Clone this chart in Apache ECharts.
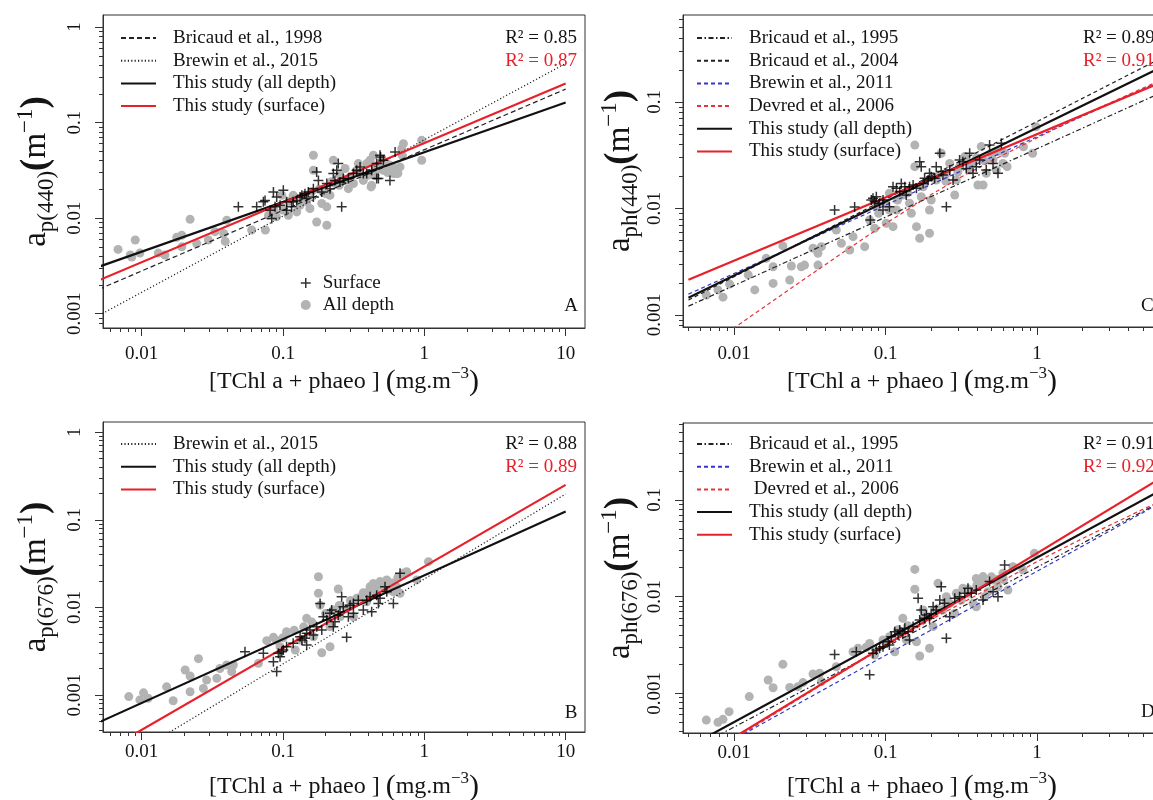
<!DOCTYPE html>
<html><head><meta charset="utf-8">
<script src="https://cdn.jsdelivr.net/npm/echarts@6/dist/echarts.min.js"></script>
<style>html,body{margin:0;padding:0;background:#fff}#c{width:1153px;height:800px}</style>
</head><body><div id="c"></div>
<script>
// ---------------- tick values / labels ----------------
const xTicksLeft = [0.01, 0.1, 1, 10];
const xTickLabelsLeft = ['0.01', '0.1', '1', '10'];
const xTicksRight = [0.01, 0.1, 1];
const xTickLabelsRight = ['0.01', '0.1', '1'];
const yTicksLeft = [0.001, 0.01, 0.1, 1];
const yTickLabelsLeft = ['0.001', '0.01', '0.1', '1'];
const yTicksRight = [0.001, 0.01, 0.1];
const yTickLabelsRight = ['0.001', '0.01', '0.1'];

// ---------------- Panel A : ap(440) ----------------
const aAllDepth = [[0.0068,0.0047],[0.0083,0.0041],[0.0090,0.0059],[0.0097,0.0043],[0.0131,0.0043],[0.0146,0.0041],[0.0177,0.0063],[0.0192,0.0066],[0.022,0.0097],[0.0192,0.0050],[0.0245,0.0054],[0.0296,0.0059],[0.033,0.0072],[0.038,0.0069],[0.039,0.0057],[0.040,0.0095],[0.060,0.0075],[0.075,0.0075],[0.079,0.0107],[0.086,0.0121],[0.100,0.0121],[0.109,0.0107],[0.118,0.0173],[0.132,0.0136],[0.147,0.0148],[0.155,0.0126],[0.164,0.0454],[0.164,0.0316],[0.173,0.0091],[0.188,0.0142],[0.204,0.0084],[0.204,0.0131],[0.215,0.0173],[0.227,0.0403],[0.233,0.023],[0.253,0.0281],[0.275,0.033],[0.29,0.0203],[0.315,0.023],[0.332,0.0316],[0.341,0.0372],[0.37,0.0248],[0.391,0.0372],[0.413,0.0403],[0.424,0.022],[0.436,0.0454],[0.448,0.0281],[0.486,0.033],[0.513,0.0316],[0.542,0.0372],[0.571,0.0357],[0.604,0.0292],[0.637,0.0292],[0.673,0.0343],[0.692,0.0533],[0.711,0.0601],[0.958,0.0403],[0.958,0.0651],[0.098,0.0173],[0.090,0.0103],[0.125,0.0116],[0.0085,0.0039],[0.42,0.0212],[0.65,0.0294],[0.12,0.016],[0.14,0.017],[0.16,0.019],[0.18,0.02],[0.22,0.024],[0.25,0.022],[0.3,0.027],[0.35,0.03],[0.4,0.028],[0.45,0.035],[0.5,0.04],[0.55,0.03],[0.6,0.034],[0.7,0.045],[0.11,0.015],[0.2,0.018],[0.28,0.025]];
const aSurface = [[0.0483,0.0131],[0.0651,0.0131],[0.0726,0.0148],[0.0855,0.0188],[0.0902,0.0166],[0.1005,0.0195],[0.0832,0.0099],[0.0878,0.0131],[0.0953,0.0136],[0.106,0.0148],[0.115,0.0131],[0.125,0.0153],[0.132,0.0166],[0.136,0.0173],[0.143,0.018],[0.151,0.0188],[0.164,0.0203],[0.173,0.0304],[0.178,0.0248],[0.188,0.0188],[0.204,0.023],[0.215,0.0203],[0.227,0.0292],[0.233,0.0248],[0.24,0.0316],[0.246,0.0372],[0.253,0.0239],[0.26,0.0131],[0.267,0.0259],[0.29,0.0259],[0.315,0.0292],[0.332,0.0316],[0.351,0.0343],[0.37,0.0292],[0.391,0.0292],[0.424,0.0316],[0.46,0.0372],[0.486,0.0454],[0.513,0.0403],[0.473,0.0259],[0.571,0.0248],[0.621,0.0492],[0.164,0.0166],[0.147,0.016],[0.118,0.0148],[0.106,0.0121],[0.081,0.0121],[0.0746,0.0153],[0.49,0.0437],[0.46,0.026]];
const aBricaud1998 = [[0.005,0.0018],[10,0.224]];
const aBrewin2015 = [[0.005,0.00096],[10,0.415]];
const aStudyAll = [[0.005,0.0031],[10,0.162]];
const aStudySurf = [[0.005,0.00224],[10,0.256]];

// ---------------- Panel B : ap(676) ----------------
const bAllDepth = [[0.0081,0.00096],[0.0097,0.00088],[0.0103,0.00106],[0.0111,0.00092],[0.0150,0.00124],[0.0167,0.00086],[0.0203,0.00193],[0.022,0.00109],[0.022,0.00165],[0.0252,0.0026],[0.0273,0.00119],[0.0288,0.00148],[0.034,0.00155],[0.0358,0.00201],[0.0399,0.0022],[0.0433,0.00185],[0.0445,0.0022],[0.067,0.0023],[0.0767,0.00417],[0.0855,0.00455],[0.106,0.00528],[0.122,0.00326],[0.147,0.0075],[0.164,0.00463],[0.178,0.0224],[0.178,0.0145],[0.183,0.0106],[0.188,0.00304],[0.215,0.00356],[0.227,0.00933],[0.246,0.0162],[0.253,0.00783],[0.282,0.00975],[0.315,0.00783],[0.332,0.0127],[0.37,0.0147],[0.391,0.0116],[0.413,0.0172],[0.436,0.0188],[0.46,0.0138],[0.486,0.0197],[0.513,0.0172],[0.542,0.0206],[0.571,0.0158],[0.604,0.0151],[0.637,0.0172],[0.673,0.0145],[0.711,0.0245],[0.75,0.0256],[0.883,0.0206],[1.07,0.0333],[0.0953,0.00356],[0.132,0.00425],[0.215,0.00603],[0.298,0.0102],[0.12,0.0055],[0.14,0.006],[0.16,0.0068],[0.2,0.0085],[0.25,0.0105],[0.3,0.012],[0.35,0.013],[0.4,0.015],[0.45,0.016],[0.5,0.018],[0.55,0.017],[0.6,0.019],[0.65,0.022],[0.1,0.0045],[0.09,0.0042]];
const bSurface = [[0.0538,0.00312],[0.0726,0.00299],[0.0855,0.0024],[0.0902,0.00185],[0.0927,0.00299],[0.098,0.00312],[0.1005,0.00326],[0.0953,0.00274],[0.106,0.00356],[0.132,0.00463],[0.136,0.00425],[0.143,0.00444],[0.147,0.00506],[0.155,0.00552],[0.164,0.00484],[0.173,0.00603],[0.183,0.0111],[0.188,0.00552],[0.193,0.00783],[0.204,0.00718],[0.215,0.00855],[0.221,0.00933],[0.227,0.00603],[0.233,0.00687],[0.246,0.00818],[0.253,0.00893],[0.26,0.0132],[0.267,0.0102],[0.282,0.00455],[0.29,0.00783],[0.298,0.0106],[0.315,0.0111],[0.341,0.0121],[0.37,0.00933],[0.391,0.0121],[0.413,0.0132],[0.424,0.00893],[0.46,0.0138],[0.486,0.0127],[0.527,0.0172],[0.542,0.0151],[0.604,0.0111],[0.673,0.0245],[0.147,0.00372],[0.118,0.00389],[0.315,0.00855],[0.473,0.0111]];
const bBrewin2015 = [[0.005,0.000124],[10,0.197]];
const bStudyAll = [[0.005,0.00049],[10,0.124]];
const bStudySurf = [[0.005,0.00021],[10,0.25]];

// ---------------- Panel C : aph(440) ----------------
const cAllDepth = [[0.00656,0.00154],[0.00783,0.00172],[0.00845,0.00147],[0.00935,0.00195],[0.0124,0.00238],[0.0137,0.00172],[0.0163,0.0034],[0.0181,0.00284],[0.0181,0.00198],[0.021,0.00445],[0.0233,0.00213],[0.0239,0.00288],[0.0278,0.00284],[0.0292,0.00294],[0.0332,0.00423],[0.0358,0.00379],[0.0358,0.00294],[0.0377,0.00438],[0.0473,0.00628],[0.0511,0.00471],[0.058,0.00407],[0.061,0.00544],[0.0728,0.00438],[0.0785,0.0078],[0.0847,0.00651],[0.0869,0.0104],[0.101,0.00726],[0.106,0.0139],[0.112,0.00675],[0.118,0.00968],[0.144,0.0112],[0.148,0.00901],[0.156,0.0394],[0.156,0.0247],[0.16,0.00675],[0.168,0.00525],[0.172,0.0129],[0.177,0.016],[0.195,0.00585],[0.195,0.00968],[0.2,0.012],[0.216,0.0185],[0.233,0.033],[0.252,0.0214],[0.265,0.0265],[0.286,0.0134],[0.293,0.0185],[0.308,0.0247],[0.333,0.0307],[0.359,0.023],[0.378,0.0265],[0.407,0.0166],[0.428,0.0381],[0.44,0.0166],[0.462,0.0214],[0.512,0.0285],[0.538,0.023],[0.552,0.0342],[0.595,0.0265],[0.611,0.033],[0.106,0.00968],[0.13,0.0134],[0.634,0.0247],[0.813,0.038],[0.935,0.033],[0.984,0.0586],[0.12,0.012],[0.14,0.014],[0.18,0.017],[0.22,0.02],[0.25,0.018],[0.3,0.022],[0.35,0.027],[0.4,0.03],[0.45,0.028],[0.5,0.032],[0.1,0.011],[0.09,0.009]];
const cSurface = [[0.0461,0.00968],[0.0625,0.0103],[0.0794,0.0078],[0.0805,0.012],[0.0826,0.0125],[0.0847,0.0116],[0.0869,0.0129],[0.0914,0.0112],[0.0962,0.012],[0.106,0.0104],[0.112,0.016],[0.118,0.0155],[0.124,0.0144],[0.127,0.0172],[0.134,0.016],[0.137,0.0134],[0.144,0.016],[0.152,0.0166],[0.16,0.0155],[0.168,0.0275],[0.172,0.0247],[0.177,0.0172],[0.181,0.0192],[0.191,0.0185],[0.195,0.0214],[0.2,0.0199],[0.211,0.0192],[0.216,0.0247],[0.228,0.033],[0.233,0.0222],[0.239,0.0206],[0.252,0.0104],[0.265,0.023],[0.279,0.0185],[0.308,0.0285],[0.324,0.0275],[0.341,0.0238],[0.359,0.033],[0.378,0.0214],[0.397,0.0247],[0.418,0.0285],[0.462,0.023],[0.486,0.0394],[0.512,0.0265],[0.552,0.0214],[0.581,0.0409],[0.0962,0.00968]];
const cBricaud1995 = [[0.005,0.00121],[10,0.16]];
const cBricaud2004 = [[0.005,0.00138],[10,0.35]];
const cBrewin2011 = [[0.005,0.00157],[10,0.207]];
const cDevred2006 = [[0.009,0.00068],[0.02,0.0015],[0.05,0.0037],[0.1,0.0072],[0.2,0.0135],[0.3,0.019],[0.5,0.028],[1,0.046],[2,0.075],[5,0.135],[10,0.21]];
const cStudyAll = [[0.005,0.00145],[10,0.283]];
const cStudySurf = [[0.005,0.00214],[10,0.196]];

// ---------------- Panel D : aph(676) ----------------
const dAllDepth = [[0.00656,0.000528],[0.00783,0.0005],[0.00845,0.000537],[0.00927,0.000645],[0.0126,0.000923],[0.0168,0.00137],[0.0181,0.00114],[0.021,0.00199],[0.0233,0.00115],[0.0264,0.00117],[0.0285,0.00129],[0.0332,0.00158],[0.0367,0.00161],[0.0377,0.00132],[0.0473,0.00188],[0.061,0.00269],[0.0658,0.00292],[0.0746,0.00299],[0.0847,0.00249],[0.0962,0.00356],[0.106,0.00385],[0.115,0.00269],[0.13,0.00596],[0.137,0.00356],[0.156,0.0191],[0.156,0.0119],[0.16,0.00341],[0.168,0.00243],[0.177,0.00726],[0.195,0.00292],[0.206,0.00489],[0.222,0.0137],[0.239,0.00726],[0.252,0.00998],[0.265,0.00851],[0.286,0.0067],[0.293,0.0108],[0.316,0.0092],[0.324,0.0122],[0.35,0.0108],[0.378,0.00851],[0.397,0.0154],[0.418,0.0137],[0.44,0.0161],[0.451,0.00998],[0.474,0.0112],[0.512,0.0148],[0.552,0.0126],[0.595,0.0174],[0.642,0.0117],[0.693,0.0204],[0.807,0.0188],[0.101,0.00328],[0.0785,0.00328],[0.121,0.00451],[0.397,0.00785],[0.96,0.028],[0.12,0.0045],[0.14,0.005],[0.18,0.006],[0.22,0.0075],[0.25,0.0085],[0.3,0.01],[0.35,0.012],[0.4,0.013],[0.45,0.014],[0.5,0.016],[0.55,0.015],[0.6,0.015]];
const dSurface = [[0.0461,0.00252],[0.0641,0.00269],[0.0785,0.00155],[0.0826,0.00259],[0.0869,0.0028],[0.0914,0.00292],[0.0962,0.00303],[0.104,0.00341],[0.109,0.00385],[0.115,0.00433],[0.121,0.004],[0.124,0.00451],[0.13,0.00417],[0.134,0.00469],[0.141,0.00433],[0.152,0.00489],[0.164,0.0096],[0.168,0.00573],[0.172,0.00726],[0.181,0.00596],[0.186,0.00644],[0.2,0.0067],[0.206,0.00785],[0.216,0.00726],[0.228,0.0092],[0.233,0.0126],[0.245,0.00851],[0.252,0.0037],[0.265,0.00619],[0.286,0.0096],[0.308,0.00998],[0.333,0.0108],[0.35,0.0122],[0.368,0.0108],[0.397,0.0117],[0.44,0.0092],[0.486,0.0143],[0.512,0.0112],[0.552,0.00998],[0.611,0.0212],[0.106,0.00315],[0.144,0.00356],[0.195,0.00596]];
const dBricaud1995 = [[0.005,0.000252],[10,0.135]];
const dBrewin2011 = [[0.005,0.000183],[10,0.135]];
const dDevred2006 = [[0.008,0.00027],[0.02,0.00066],[0.05,0.0016],[0.1,0.0031],[0.2,0.0058],[0.5,0.0125],[1,0.023],[2,0.04],[5,0.08],[10,0.13]];
const dStudyAll = [[0.005,0.000279],[10,0.18]];
const dStudySurf = [[0.005,0.000181],[10,0.252]];

// ---------------- styles ----------------
const FONT = 'Liberation Serif';
const TXT = '#141414';
const AXC = '#333333';
const RED = '#e8202a';
const GREY = '#b3b3b3';
const PLUS = 'path://M5,0L5,10M0,5L10,5';

const STY = {
  'Bricaud et al., 1998': {color:'#222', width:1.2, type:[5,3]},
  'Brewin et al., 2015': {color:'#222', width:1.2, type:[1.2,2.2]},
  'Bricaud et al., 1995': {color:'#222', width:1.2, type:[5,2.5,1.5,2.5]},
  'Bricaud et al., 2004': {color:'#222', width:1.2, type:[4,3]},
  'Brewin et al., 2011': {color:'#3535cc', width:1.2, type:[4,3]},
  'Devred et al., 2006': {color:'#e8323a', width:1.2, type:[4,3]},
  ' Devred et al., 2006': {color:'#e8323a', width:1.2, type:[4,3]},
  'This study (all depth)': {color:'#111', width:2.2, type:'solid'},
  'This study (surface)': {color:RED, width:2.2, type:'solid'}
};

function L(arr) { return arr.map(p => [Math.log10(p[0]), Math.log10(p[1])]); }
function minorTicks() {
  const out = [];
  for (let k = -5; k <= 1; k++) for (let m = 1; m <= 9; m++) out.push(Math.log10(m * Math.pow(10, k)));
  return out;
}
const MINOR = minorTicks();

function yName(sub) {
  return '{a|a}{s|' + sub + '}{p|(}{a|m}{u|\u22121}{p|)}';
}
const yRich = {
  a: {fontFamily:FONT, fontSize:33, lineHeight:44, color:TXT},
  s: {fontFamily:FONT, fontSize:23, lineHeight:20, verticalAlign:'bottom', color:TXT},
  p: {fontFamily:FONT, fontSize:37, lineHeight:44, fontWeight:'bold', color:TXT},
  u: {fontFamily:FONT, fontSize:23, lineHeight:34, verticalAlign:'top', color:TXT}
};
const xNameStr = '{t|[TChl a + phaeo ] }{p|(}{t|mg.m}{u|\u22123}{p|)}';
const xRich = {
  t: {fontFamily:FONT, fontSize:24, lineHeight:34, color:TXT},
  p: {fontFamily:FONT, fontSize:30, lineHeight:34, color:TXT},
  u: {fontFamily:FONT, fontSize:17, lineHeight:24, verticalAlign:'top', color:TXT}
};

const panels = [
  {grid:{left:103, top:15, width:482, height:313}, xr:[-2.274,1.137], yr:[-3.151,0.126],
   xT:xTicksLeft, xTL:xTickLabelsLeft, yT:yTicksLeft, yTL:yTickLabelsLeft,
   xMargin:17, yMargin:18, xNameGap:34, yNameGap:45, sub:'p(440)',
   all:aAllDepth, surf:aSurface,
   lines:[['Bricaud et al., 1998',aBricaud1998],['Brewin et al., 2015',aBrewin2015],['This study (all depth)',aStudyAll],['This study (surface)',aStudySurf]]},
  {grid:{left:103, top:422, width:482, height:310}, xr:[-2.274,1.137], yr:[-3.422,0.116],
   xT:xTicksLeft, xTL:xTickLabelsLeft, yT:yTicksLeft, yTL:yTickLabelsLeft,
   xMargin:11, yMargin:18, xNameGap:38, yNameGap:45, sub:'p(676)',
   all:bAllDepth, surf:bSurface,
   lines:[['Brewin et al., 2015',bBrewin2015],['This study (all depth)',bStudyAll],['This study (surface)',bStudySurf]]},
  {grid:{left:683, top:15, width:478, height:312}, xr:[-2.337,0.818], yr:[-3.113,-0.183],
   xT:xTicksRight, xTL:xTickLabelsRight, yT:yTicksRight, yTL:yTickLabelsRight,
   xMargin:18, yMargin:18, xNameGap:37, yNameGap:41, sub:'ph(440)',
   all:cAllDepth, surf:cSurface,
   lines:[['Bricaud et al., 1995',cBricaud1995],['Bricaud et al., 2004',cBricaud2004],['Brewin et al., 2011',cBrewin2011],['Devred et al., 2006',cDevred2006],['This study (all depth)',cStudyAll],['This study (surface)',cStudySurf]]},
  {grid:{left:683, top:423, width:478, height:310}, xr:[-2.337,0.818], yr:[-3.411,-0.205],
   xT:xTicksRight, xTL:xTickLabelsRight, yT:yTicksRight, yTL:yTickLabelsRight,
   xMargin:11, yMargin:18, xNameGap:37, yNameGap:41, sub:'ph(676)',
   all:dAllDepth, surf:dSurface,
   lines:[['Bricaud et al., 1995',dBricaud1995],['Brewin et al., 2011',dBrewin2011],[' Devred et al., 2006',dDevred2006],['This study (all depth)',dStudyAll],['This study (surface)',dStudySurf]]}
];

function fmt(vals, labels) {
  return function (v) {
    const i = vals.findIndex(t => Math.abs(Math.log10(t) - v) < 1e-6);
    return i >= 0 ? labels[i] : '';
  };
}

const grids = [], xAxes = [], yAxes = [], series = [];
panels.forEach((p, i) => {
  grids.push(Object.assign({show:true, borderColor:AXC, borderWidth:1, backgroundColor:'transparent', containLabel:false, outerBoundsMode:'none'}, p.grid));
  const xMaj = p.xT.map(v => Math.log10(v));
  const yMaj = p.yT.map(v => Math.log10(v));
  xAxes.push({type:'value', gridIndex:i, position:'bottom', offset:0, min:p.xr[0], max:p.xr[1],
    axisLine:{show:true, onZero:false, lineStyle:{color:AXC, width:1}}, splitLine:{show:false},
    axisTick:{show:true, inside:false, length:8, customValues:xMaj, lineStyle:{color:AXC, width:1}},
    axisLabel:{show:true, customValues:xMaj, formatter:fmt(p.xT, p.xTL), margin:p.xMargin, fontFamily:FONT, fontSize:19, color:TXT},
    name:xNameStr, nameLocation:'middle', nameGap:p.xNameGap, nameTextStyle:{fontFamily:FONT, color:TXT, rich:xRich}});
  xAxes.push({type:'value', gridIndex:i, position:'bottom', offset:0, min:p.xr[0], max:p.xr[1],
    axisLine:{show:false, onZero:false}, splitLine:{show:false},
    axisTick:{show:true, inside:false, length:4, customValues:MINOR, lineStyle:{color:AXC, width:1}},
    axisLabel:{show:false}});
  yAxes.push({type:'value', gridIndex:i, position:'left', offset:0, min:p.yr[0], max:p.yr[1],
    axisLine:{show:true, onZero:false, lineStyle:{color:AXC, width:1}}, splitLine:{show:false},
    axisTick:{show:true, inside:false, length:8, customValues:yMaj, lineStyle:{color:AXC, width:1}},
    axisLabel:{show:true, customValues:yMaj, rotate:90, formatter:fmt(p.yT, p.yTL), margin:p.yMargin, fontFamily:FONT, fontSize:19, color:TXT},
    name:yName(p.sub), nameLocation:'middle', nameGap:p.yNameGap, nameTextStyle:{fontFamily:FONT, color:TXT, rich:yRich}});
  yAxes.push({type:'value', gridIndex:i, position:'left', offset:0, min:p.yr[0], max:p.yr[1],
    axisLine:{show:false, onZero:false}, splitLine:{show:false},
    axisTick:{show:true, inside:false, length:4, customValues:MINOR, lineStyle:{color:AXC, width:1}},
    axisLabel:{show:false}});

  series.push({type:'scatter', name:'All depth', xAxisIndex:2*i, yAxisIndex:2*i, data:L(p.all),
    symbol:'circle', symbolSize:9, itemStyle:{color:GREY, opacity:1}, silent:true, z:2});
  p.lines.forEach(([nm, d]) => {
    const s = STY[nm];
    series.push({type:'line', name:nm, xAxisIndex:2*i, yAxisIndex:2*i, data:L(d), symbol:'none', showSymbol:false,
      clip:true, silent:true, z:3, lineStyle:{color:s.color, width:s.width, type:s.type}, itemStyle:{color:s.color}});
  });
  series.push({type:'scatter', name:'Surface', xAxisIndex:2*i, yAxisIndex:2*i, data:L(p.surf),
    symbol:PLUS, symbolSize:10, itemStyle:{color:'#000', borderColor:'#000', borderWidth:1.5}, silent:true, z:4});
});

const legText = {fontFamily:FONT, fontSize:19, color:TXT, lineHeight:22, padding:[0,0,0,12]};
function lineLegend(left, top, names) {
  return {show:true, orient:'vertical', left:left, top:top, padding:0, itemGap:0.7, itemWidth:35, itemHeight:14,
    selectedMode:false, align:'left', textStyle:legText, itemStyle:{opacity:0}, data:names};
}
const legends = [
  lineLegend(120, 27, ['Bricaud et al., 1998','Brewin et al., 2015','This study (all depth)','This study (surface)']),
  lineLegend(120, 433, ['Brewin et al., 2015','This study (all depth)','This study (surface)']),
  lineLegend(696, 27, ['Bricaud et al., 1995','Bricaud et al., 2004','Brewin et al., 2011','Devred et al., 2006','This study (all depth)','This study (surface)']),
  lineLegend(696, 433, ['Bricaud et al., 1995','Brewin et al., 2011',' Devred et al., 2006','This study (all depth)','This study (surface)']),
  {show:true, orient:'vertical', left:300, top:272, padding:0, itemGap:0, itemWidth:10, itemHeight:10,
   selectedMode:false, align:'left', textStyle:{fontFamily:FONT, fontSize:19, color:TXT, lineHeight:22, padding:[0,0,0,7]},
   data:[{name:'Surface', itemStyle:{color:'#000', borderColor:'#000', borderWidth:1.5}}, {name:'All depth', itemStyle:{color:GREY, borderWidth:0}}]}
];

function txt(x, y, s, color, align) {
  return {type:'text', x:x, y:y, silent:true, z:10,
    style:{text:s, fill:color, fontFamily:FONT, fontSize:19, align:align || 'left', verticalAlign:'middle'}};
}
const graphics = [
  txt(577, 38, 'R\u00b2 = 0.85', TXT, 'right'), txt(577, 61, 'R\u00b2 = 0.87', RED, 'right'),
  txt(577, 444, 'R\u00b2 = 0.88', TXT, 'right'), txt(577, 467, 'R\u00b2 = 0.89', RED, 'right'),
  txt(1083, 38, 'R\u00b2 = 0.89', TXT), txt(1083, 61, 'R\u00b2 = 0.91', RED),
  txt(1083, 444, 'R\u00b2 = 0.91', TXT), txt(1083, 467, 'R\u00b2 = 0.92', RED),
  txt(571, 306, 'A', TXT, 'center'), txt(571, 713, 'B', TXT, 'center'),
  txt(1141, 306, 'C', TXT), txt(1141, 712, 'D', TXT)
];

const chart = echarts.init(document.getElementById('c'), null, {renderer:'canvas'});
chart.setOption({
  backgroundColor:'#ffffff',
  animation:false,
  grid:grids, xAxis:xAxes, yAxis:yAxes, series:series, legend:legends, graphic:graphics
});
</script></body></html>
